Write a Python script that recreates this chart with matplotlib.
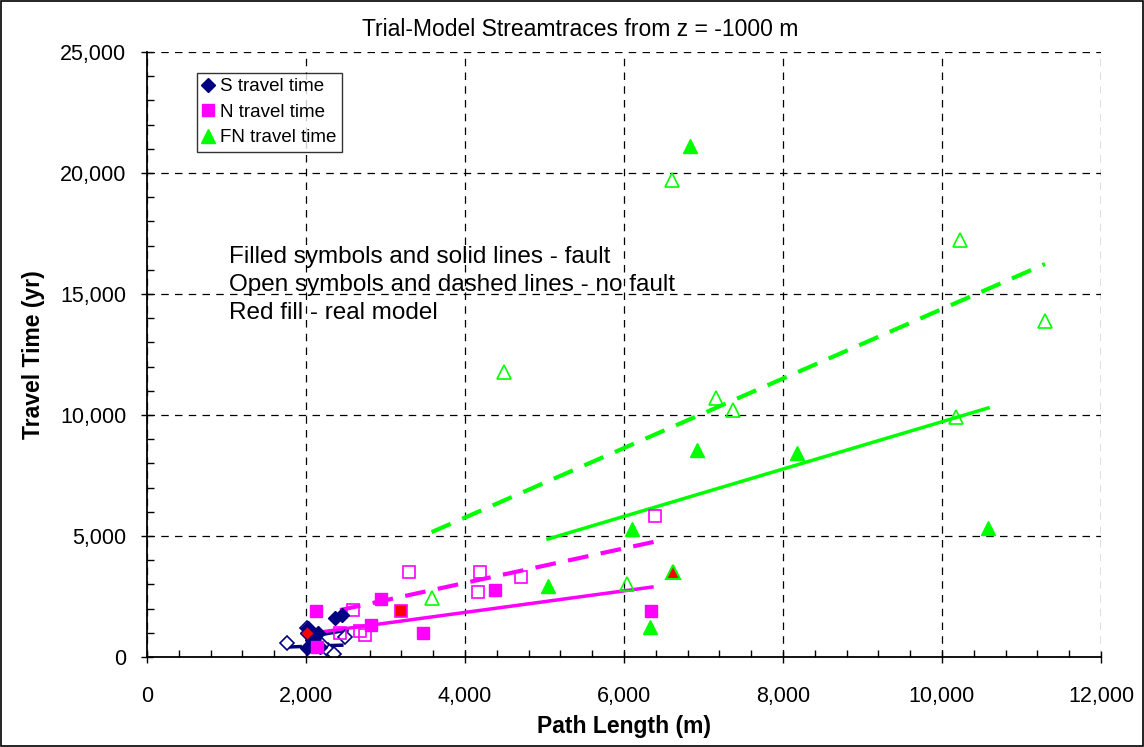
import matplotlib.pyplot as plt
from matplotlib.patches import Rectangle
from matplotlib.ticker import MultipleLocator, FuncFormatter

plt.rcParams['font.family'] = ['Liberation Sans', 'DejaVu Sans']

# S travel time (navy diamonds)
s_fault_x = [2365, 2453, 2025, 2013, 2113, 2176, 2150, 2075]
s_fault_y = [1610, 1735, 1200, 370, 495, 410, 990, 700]
s_real_x = [2013]
s_real_y = [990]
s_nofault_x = [1760, 2013, 2490, 2277, 2352, 2200]
s_nofault_y = [580, 1200, 830, 290, 120, 500]

# N travel time (magenta squares)
n_fault_x = [2126, 2943, 2818, 3472, 4377, 6340, 2138]
n_fault_y = [1900, 2400, 1320, 990, 2770, 1900, 400]
n_real_x = [3195]
n_real_y = [1900]
n_nofault_x = [3296, 4189, 6390, 4704, 4164, 2591, 2428, 2679, 2742]
n_nofault_y = [3510, 3510, 5830, 3300, 2690, 1940, 990, 1070, 910]

# FN travel time (green triangles)
fn_fault_x = [6830, 6920, 8176, 6100, 5044, 6327, 10580]
fn_fault_y = [21100, 8550, 8430, 5290, 2930, 1240, 5330]
fn_real_x = [6616]
fn_real_y = [3510]
fn_nofault_x = [6600, 10226, 11300, 4491, 7157, 7371, 10176, 3580, 6038]
fn_nofault_y = [19720, 17250, 13900, 11776, 10700, 10200, 9920, 2450, 3030]

# trend lines (end points)
s_solid_x, s_solid_y = [2025, 2516], [830, 1110]
s_dash_x, s_dash_y = [1774, 2516], [413, 496]
n_solid_x, n_solid_y = [2088, 6352], [990, 2890]
n_dash_x, n_dash_y = [2428, 6380], [1940, 4760]
fn_solid_x, fn_solid_y = [5044, 10580], [4876, 10290]
fn_dash_x, fn_dash_y = [3580, 11296], [5160, 16240]

navy = '#000080'
mag = '#FF00FF'
grn = '#00FF00'
red = '#FF0000'

fig = plt.figure(figsize=(11.44, 7.47), dpi=100)
ax = fig.add_axes([147 / 1144, 90 / 747, 954 / 1144, 605 / 747])

# trend lines
ax.plot(s_solid_x, s_solid_y, color=navy, lw=2.5)
ax.plot(s_dash_x, s_dash_y, color=navy, lw=2.5, ls=(0, (4, 2)))
ax.plot(n_solid_x, n_solid_y, color=mag, lw=2.5)
ax.plot(n_dash_x, n_dash_y, color=mag, lw=3, ls=(0, (5, 3)))
ax.plot(fn_solid_x, fn_solid_y, color=grn, lw=2.5)
ax.plot(fn_dash_x, fn_dash_y, color=grn, lw=3, ls=(0, (5, 3)))

# open symbols - no fault
ax.plot(s_nofault_x, s_nofault_y, 'D', ms=7, mfc='white', mec=navy, mew=1.2, ls='none')
ax.plot(n_nofault_x, n_nofault_y, 's', ms=9, mfc='none', mec=mag, mew=1.2, ls='none')
ax.plot(fn_nofault_x, fn_nofault_y, '^', ms=10, mfc='none', mec=grn, mew=1.2, ls='none')

# filled symbols - fault
ax.plot(s_fault_x, s_fault_y, 'D', ms=7, color=navy, ls='none', label='S travel time')
ax.plot(n_fault_x, n_fault_y, 's', ms=9, color=mag, ls='none', label='N travel time')
ax.plot(fn_fault_x, fn_fault_y, '^', ms=10, color=grn, ls='none', label='FN travel time')

# red fill - real model
ax.plot(s_real_x, s_real_y, 'D', ms=7, mfc=red, mec=navy, ls='none')
ax.plot(n_real_x, n_real_y, 's', ms=9, mfc=red, mec=mag, mew=1.2, ls='none')
ax.plot(fn_real_x, fn_real_y, '^', ms=10, mfc=red, mec=grn, mew=1.5, ls='none')

ax.set_xlim(0, 12000)
ax.set_ylim(0, 25000)
ax.xaxis.set_major_locator(MultipleLocator(2000))
ax.xaxis.set_minor_locator(MultipleLocator(400))
ax.yaxis.set_major_locator(MultipleLocator(5000))
ax.yaxis.set_minor_locator(MultipleLocator(1000))
fmt = FuncFormatter(lambda v, p: f'{int(v):,}')
ax.xaxis.set_major_formatter(fmt)
ax.yaxis.set_major_formatter(fmt)
ax.tick_params(which='major', direction='inout', length=8, width=1, labelsize=15.5)
ax.tick_params(which='minor', direction='in', length=5, width=1)
ax.tick_params(axis='x', which='major', pad=17)
ax.tick_params(axis='y', which='major', pad=11)

ax.grid(True, which='major', color='black', ls=(0, (6, 5)), lw=0.9)
ax.set_axisbelow(True)
for side in ['top', 'right']:
    ax.spines[side].set_visible(False)
ax.spines['left'].set_linewidth(1.3)
ax.spines['bottom'].set_linewidth(1.3)

ax.set_xlabel('Path Length (m)', fontsize=16.5, fontweight='bold', labelpad=6)
ax.set_ylabel('Travel Time (yr)', fontsize=16.5, fontweight='bold', labelpad=11)
fig.text(0.507, 0.961, 'Trial-Model Streamtraces from z = -1000 m', ha='center',
         va='center', fontsize=16.5)

ax.text(0.086, 0.661, 'Filled symbols and solid lines - fault', transform=ax.transAxes,
        fontsize=17.5, va='center', zorder=5)
ax.text(0.086, 0.615, 'Open symbols and dashed lines - no fault', transform=ax.transAxes,
        fontsize=17.5, va='center', zorder=5)
ax.text(0.086, 0.569, 'Red fill - real model', transform=ax.transAxes,
        fontsize=17.5, va='center', zorder=5)

leg = ax.legend(loc='upper left', bbox_to_anchor=(0.052, 0.966), fontsize=13.5,
                frameon=True, fancybox=False, borderpad=0.3, handlelength=0.6,
                handletextpad=0.35, labelspacing=0.45, borderaxespad=0,
                markerscale=1.0)
leg.get_frame().set_edgecolor('black')
leg.get_frame().set_linewidth(1)

fig.patches.append(Rectangle((0.001, 0.001), 0.998, 0.997, transform=fig.transFigure,
                             fill=False, edgecolor='black', lw=1.2))

fig.savefig('out.png', dpi=100)
